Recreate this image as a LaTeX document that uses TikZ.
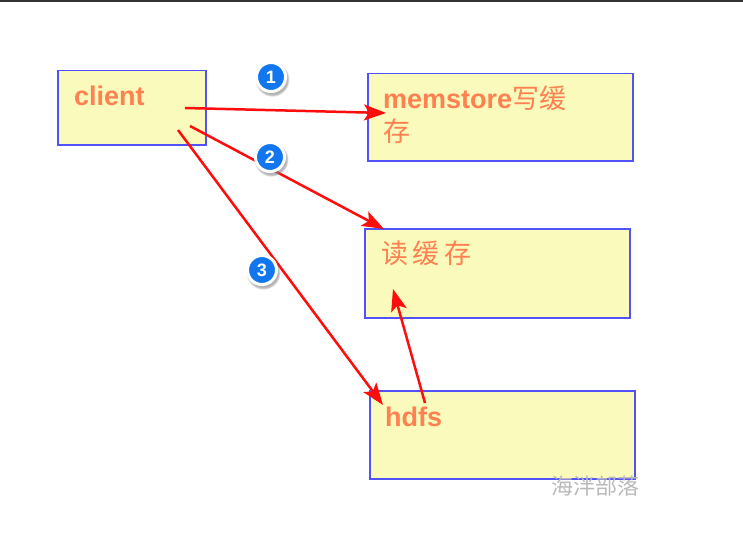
\documentclass[tikz,border=0pt]{standalone}
\usepackage{fontspec}
\setmainfont{Liberation Sans}
\newfontfamily\cjk{Noto Sans CJK SC}
\usetikzlibrary{arrows.meta,shadows}
\definecolor{figY}{RGB}{250,250,188}
\definecolor{figB}{RGB}{82,82,250}
\definecolor{figO}{RGB}{255,128,80}
\definecolor{figR}{RGB}{255,12,12}
\definecolor{figN}{RGB}{18,118,238}
\definecolor{figK}{RGB}{48,50,52}

\begin{document}
\begin{tikzpicture}[x=1pt,y=-1pt,>={Stealth[length=22pt,width=16pt,inset=5pt]},
  box/.style={draw=figB,fill=figY,line width=1.5pt,anchor=north west,inner sep=0pt},
  lbl/.style={figO,font=\fontsize{27}{30}\selectfont,anchor=base west,inner sep=0pt},
  flow/.style={->,figR,line width=2.5pt},
  num/.style={circle,fill=figN,draw=white,line width=3pt,minimum size=29pt,inner sep=0pt,
    text=white,font=\fontsize{18}{18}\selectfont\bfseries,
    circular drop shadow={shadow xshift=1pt,shadow yshift=-2pt,shadow scale=1.2,opacity=0.6}}]
\useasboundingbox (0,0) rectangle (743,532);
\fill[figK] (0,0) rectangle (743,2);
% boxes
\node[box,minimum width=148pt,minimum height=74pt] (client) at (57,70) {};
\node[box,minimum width=265pt,minimum height=87pt] (memstore) at (367,73) {};
\node[box,minimum width=265pt,minimum height=89pt] (readcache) at (364,228) {};
\node[box,minimum width=265pt,minimum height=88pt] (hdfs) at (369,390) {};
% texts
\node[lbl] (clienttxt) at (74,106) {\bfseries client};
\node[lbl] (memtxt) at (383,109) {{\bfseries memstore}\cjk 写缓};
\node[lbl] (memtxt2) at (383,141) {\cjk 存};
\node[lbl] (readtxt) at (381,263) {\cjk 读\,缓\,存};
\node[lbl] (hdfstxt) at (385,426) {\bfseries hdfs};
\node[gray!55,font=\cjk\fontsize{22}{22}\selectfont] (mark) at (595,486) {海泮部落};
% arrow ends
\coordinate (c1) at (185,108);
\coordinate (c2) at (190,126);
\coordinate (c3) at (178,130);
\coordinate (m1) at (386,113);
\coordinate (r2) at (384,229);
\coordinate (h3) at (383,405);
\coordinate (h4) at (425,403);
\coordinate (r4) at (393,289);
\draw[flow] (c1) -- (m1);
\draw[flow] (c2) -- (r2);
\draw[flow] (c3) -- (h3);
\draw[flow] (h4) -- (r4);
% step numbers
\node[num] (n1) at (271,77) {1};
\node[num] (n2) at (270,157) {2};
\node[num] (n3) at (262,270) {3};
\end{tikzpicture}
\end{document}
